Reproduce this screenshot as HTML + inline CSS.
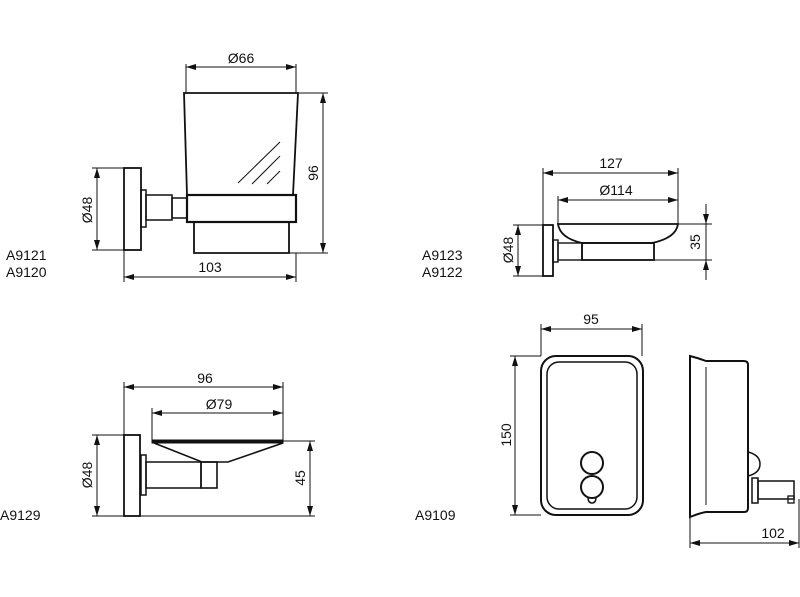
<!DOCTYPE html>
<html><head><meta charset="utf-8"><style>
html,body{margin:0;padding:0;background:#fff}
svg{display:block}
text{font-family:"Liberation Sans",sans-serif;font-size:14px;fill:#111}
</style></head><body>
<svg width="800" height="597" viewBox="0 0 800 597" xmlns="http://www.w3.org/2000/svg">
<defs>
<marker id="a" viewBox="0 0 10 6" refX="10" refY="3" markerWidth="10" markerHeight="6" markerUnits="userSpaceOnUse" orient="auto-start-reverse"><path d="M0,0 L10,3 L0,6 Z" fill="#111"/></marker>
</defs>
<g stroke="#111" fill="none" stroke-width="1">
<!-- ===== Cup holder ===== -->
<line x1="186" y1="64" x2="186" y2="93"/><line x1="296" y1="64" x2="296" y2="93"/>
<line x1="186" y1="67" x2="296" y2="67" marker-start="url(#a)" marker-end="url(#a)"/>
<path d="M184,93 L298,93 L293,195 L187,195 Z" stroke-width="1.8"/>
<line x1="238" y1="183" x2="280" y2="142"/><line x1="252" y1="184" x2="280" y2="156"/><line x1="267" y1="184" x2="280" y2="171"/>
<rect x="187" y="195" width="109" height="27" stroke-width="2.2"/>
<path d="M194,222 L194,253 L289,253 L289,222" stroke-width="1.8"/>
<rect x="124" y="168" width="17" height="82" stroke-width="1.8"/>
<rect x="141" y="190" width="5" height="37" stroke-width="1.5"/>
<rect x="146" y="195" width="26" height="25" stroke-width="1.5"/>
<rect x="172" y="198" width="15" height="20" stroke-width="1.5"/>
<line x1="92" y1="168" x2="124" y2="168"/><line x1="92" y1="250" x2="124" y2="250"/>
<line x1="97" y1="168" x2="97" y2="250" marker-start="url(#a)" marker-end="url(#a)"/>
<line x1="299" y1="93" x2="328" y2="93"/><line x1="289" y1="253" x2="328" y2="253"/>
<line x1="323" y1="93" x2="323" y2="253" marker-start="url(#a)" marker-end="url(#a)"/>
<line x1="124" y1="250" x2="124" y2="282"/><line x1="296" y1="253" x2="296" y2="282"/>
<line x1="124" y1="277" x2="296" y2="277" marker-start="url(#a)" marker-end="url(#a)"/>
<!-- ===== Soap dish 127 ===== -->
<line x1="543" y1="168" x2="543" y2="225"/><line x1="678" y1="168" x2="678" y2="224"/><line x1="558" y1="196" x2="558" y2="224"/>
<line x1="543" y1="173" x2="678" y2="173" marker-start="url(#a)" marker-end="url(#a)"/>
<line x1="558" y1="200" x2="678" y2="200" marker-start="url(#a)" marker-end="url(#a)"/>
<path d="M558,224 L678,224 Q676,238 652,243 L582,243 Q560,238 558,224 Z" stroke-width="1.8"/>
<rect x="582" y="243" width="72" height="17" stroke-width="1.8"/>
<rect x="543" y="225" width="10" height="51" stroke-width="1.8"/>
<rect x="553" y="240" width="5" height="22" stroke-width="1.4"/>
<rect x="558" y="243" width="24" height="17" stroke-width="1.4"/>
<line x1="513" y1="225" x2="543" y2="225"/><line x1="513" y1="276" x2="543" y2="276"/>
<line x1="518" y1="225" x2="518" y2="276" marker-start="url(#a)" marker-end="url(#a)"/>
<line x1="678" y1="224" x2="712" y2="224"/><line x1="654" y1="260" x2="712" y2="260"/>
<line x1="706" y1="204" x2="706" y2="224" marker-end="url(#a)"/>
<line x1="706" y1="224" x2="706" y2="260"/>
<line x1="706" y1="280" x2="706" y2="260" marker-end="url(#a)"/>
<!-- ===== Soap dish 96 ===== -->
<line x1="124" y1="382" x2="124" y2="435"/><line x1="283" y1="382" x2="283" y2="441"/><line x1="152" y1="408" x2="152" y2="441"/>
<line x1="124" y1="387" x2="283" y2="387" marker-start="url(#a)" marker-end="url(#a)"/>
<line x1="152" y1="413" x2="283" y2="413" marker-start="url(#a)" marker-end="url(#a)"/>
<rect x="152" y="440" width="131" height="3" fill="#111" stroke-width="1"/>
<path d="M154,443 L202,462 L228,462 L283,443" stroke-width="1.6"/>
<rect x="201" y="462" width="16" height="26" stroke-width="1.6"/>
<rect x="146" y="462" width="55" height="26" stroke-width="1.5"/>
<rect x="141" y="455" width="5" height="40" stroke-width="1.5"/>
<rect x="124" y="435" width="16" height="81" stroke-width="1.8"/>
<line x1="92" y1="435" x2="124" y2="435"/><line x1="92" y1="516" x2="315" y2="516"/>
<line x1="97" y1="435" x2="97" y2="516" marker-start="url(#a)" marker-end="url(#a)"/>
<line x1="283" y1="441" x2="315" y2="441"/>
<line x1="310" y1="441" x2="310" y2="516" marker-start="url(#a)" marker-end="url(#a)"/>
<!-- ===== Dispenser front ===== -->
<line x1="541" y1="324" x2="541" y2="356"/><line x1="642" y1="324" x2="642" y2="356"/>
<line x1="541" y1="329" x2="642" y2="329" marker-start="url(#a)" marker-end="url(#a)"/>
<rect x="541" y="356" width="102" height="159" rx="15" stroke-width="2"/>
<rect x="547" y="362" width="90" height="147" rx="12" stroke-width="1.5"/>
<circle cx="592" cy="463" r="11" stroke-width="2"/>
<circle cx="592" cy="487" r="11" stroke-width="2"/>
<path d="M588,497 Q588,503 592,503 Q596,503 596,497" stroke-width="1.5"/>
<line x1="510" y1="356" x2="541" y2="356"/><line x1="510" y1="515" x2="541" y2="515"/>
<line x1="515" y1="356" x2="515" y2="515" marker-start="url(#a)" marker-end="url(#a)"/>
<!-- ===== Dispenser side ===== -->
<path d="M690,356 L690,517 Q700,513 706,512 L744,512 Q748,512 748,508 L748,365 Q748,361 744,361 L706,361 Q698,358 690,356 Z" stroke-width="2"/>
<line x1="706" y1="367" x2="706" y2="505"/>
<path d="M748,452 Q760,455 760,464 Q760,473 748,476" stroke-width="1.5"/>
<rect x="752" y="478" width="6" height="25" stroke-width="1.5"/>
<rect x="758" y="481" width="36" height="18" stroke-width="1.5"/>
<rect x="788" y="496" width="6" height="7" stroke-width="1.3"/>
<line x1="690" y1="517" x2="690" y2="548"/><line x1="799" y1="499" x2="799" y2="548"/>
<line x1="690" y1="543" x2="799" y2="543" marker-start="url(#a)" marker-end="url(#a)"/>
</g>
<!-- Text -->
<text x="241" y="63" text-anchor="middle">Ø66</text>
<text x="210" y="272" text-anchor="middle">103</text>
<text transform="translate(318,173) rotate(-90)" text-anchor="middle">96</text>
<text transform="translate(92,210) rotate(-90)" text-anchor="middle">Ø48</text>
<text x="6" y="260">A9121</text>
<text x="6" y="277">A9120</text>
<text x="611" y="168" text-anchor="middle">127</text>
<text x="616" y="195" text-anchor="middle">Ø114</text>
<text transform="translate(513,250) rotate(-90)" text-anchor="middle">Ø48</text>
<text transform="translate(700,242) rotate(-90)" text-anchor="middle">35</text>
<text x="422" y="260">A9123</text>
<text x="422" y="277">A9122</text>
<text x="205" y="383" text-anchor="middle">96</text>
<text x="219" y="409" text-anchor="middle">Ø79</text>
<text transform="translate(92,475) rotate(-90)" text-anchor="middle">Ø48</text>
<text transform="translate(305,478) rotate(-90)" text-anchor="middle">45</text>
<text x="0" y="520">A9129</text>
<text x="591" y="324" text-anchor="middle">95</text>
<text transform="translate(511,435) rotate(-90)" text-anchor="middle">150</text>
<text x="773" y="538" text-anchor="middle">102</text>
<text x="415" y="520">A9109</text>
</svg>
</body></html>
